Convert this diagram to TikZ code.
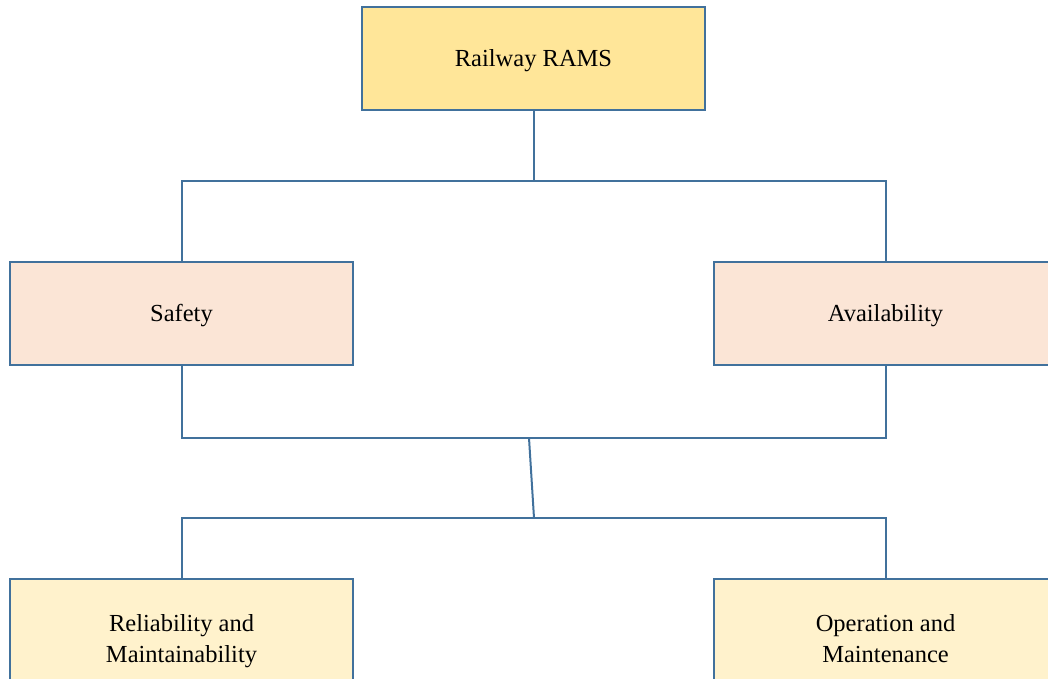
\documentclass[tikz,border=0pt]{standalone}
\usepackage{fontspec}
\setmainfont{Liberation Serif}
\usepackage{tikz}
\definecolor{edge}{HTML}{41719C}
\definecolor{gold}{HTML}{FFE699}
\definecolor{peach}{HTML}{FBE5D6}
\definecolor{cream}{HTML}{FFF2CC}
\tikzset{
    box/.style={draw=edge, line width=1.6pt, minimum width=343pt, minimum height=103pt,
      align=center, font=\fontsize{24.5}{31}\selectfont, inner sep=0pt},
    onebox/.style={box, text height=16pt, text depth=0pt},
    tallbox/.style={box, minimum height=123pt},
    link/.style={edge, line width=2pt}
}

\begin{document}
\begin{tikzpicture}[x=1pt, y=-1pt]
  \useasboundingbox (0,0) rectangle (1048,679);
  % boxes
  \node [onebox, fill=gold] (rams) at (533.5,58.5) {Railway RAMS};
  \node [onebox, fill=peach] (safety) at (181.5,313.5) {Safety};
  \node [onebox, fill=peach] (avail) at (885.5,313.5) {Availability};
  \node [tallbox, fill=cream] (relmain) at (181.5,640.5) {\strut Reliability and\\\strut Maintainability};
  \node [tallbox, fill=cream] (opmain) at (885.5,640.5) {\strut Operation and\\\strut Maintenance};
  % junctions
  \coordinate (topjoin) at (533.5,181);
  \coordinate (midjoin) at (529,438);
  \coordinate (lowjoin) at (534,518);
  % connectors
  \draw [link] (rams.south) -- (topjoin);
  \draw [link] (safety.north) |- (topjoin) -| (avail.north);
  \draw [link] (safety.south) |- (midjoin) -| (avail.south);
  \draw [link] (midjoin) -- (lowjoin);
  \draw [link] (relmain.north) |- (lowjoin) -| (opmain.north);
\end{tikzpicture}
\end{document}
